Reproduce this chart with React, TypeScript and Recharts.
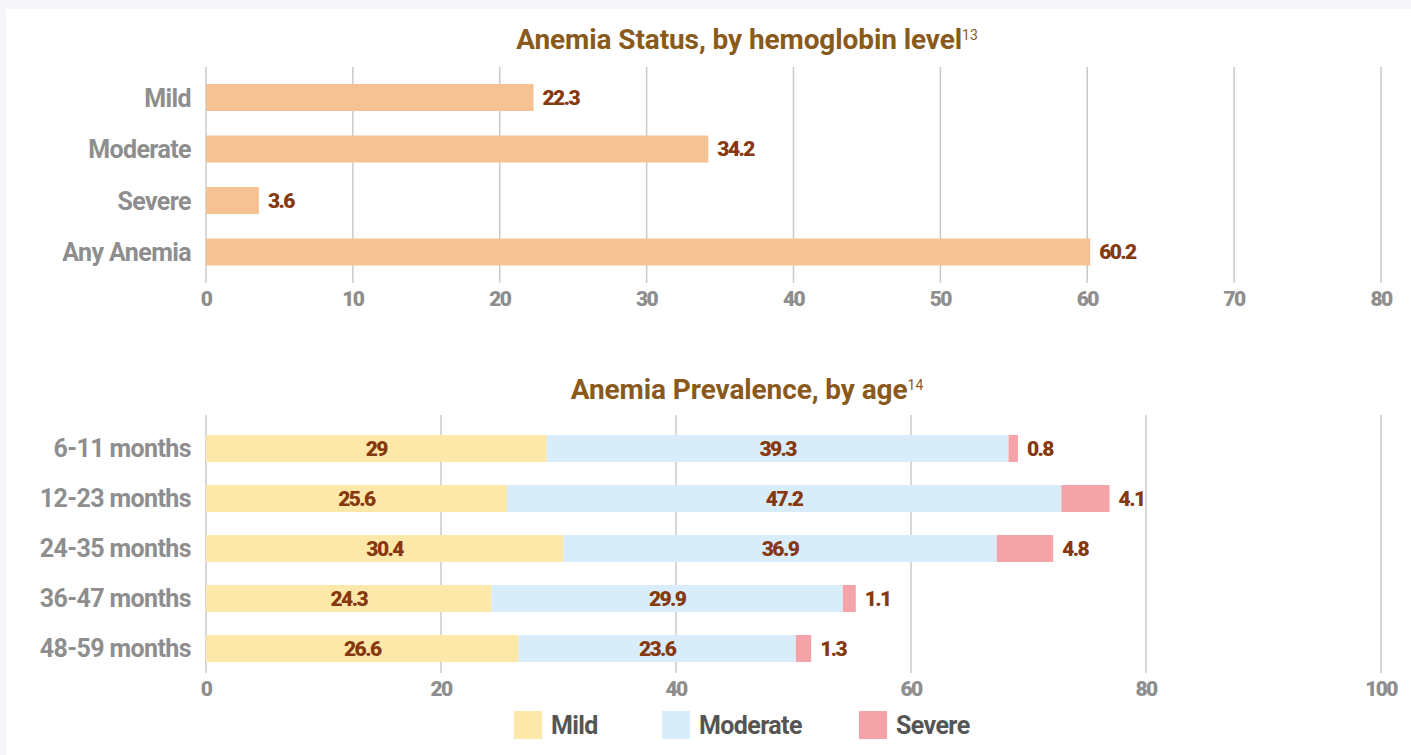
import { BarChart, Bar, XAxis, YAxis, CartesianGrid, LabelList } from 'recharts';

// top chart: anemia status by hemoglobin level
const statusCategories = ['Mild', 'Moderate', 'Severe', 'Any Anemia'];
const statusValues = [22.3, 34.2, 3.6, 60.2];
const statusTicks = [0, 10, 20, 30, 40, 50, 60, 70, 80];

// bottom chart: prevalence by age
const ageGroups = ['6-11 months', '12-23 months', '24-35 months', '36-47 months', '48-59 months'];
const mildByAge = [29, 25.6, 30.4, 24.3, 26.6];
const moderateByAge = [39.3, 47.2, 36.9, 29.9, 23.6];
const severeByAge = [0.8, 4.1, 4.8, 1.1, 1.3];
const ageTicks = [0, 20, 40, 60, 80, 100];

const seriesNames = ['Mild', 'Moderate', 'Severe'];
const seriesColors = ['#FDE8A9', '#D8ECFA', '#F4A4A9'];
const legendLefts = [514, 662, 859];

const FONT = "'Roboto', 'Liberation Sans', sans-serif";
const TITLE_COLOR = '#8A5A1C';
const VALUE_COLOR = '#86380F';
const TICK_COLOR = '#8E8E8E';
const GRID_COLOR = '#CACACA';

const statusData = statusCategories.map((name, i) => ({ name, value: statusValues[i] }));
const ageData = ageGroups.map((name, i) => ({
  name,
  mild: mildByAge[i],
  moderate: moderateByAge[i],
  severe: severeByAge[i],
}));

const valueLabelStyle = { fill: VALUE_COLOR, fontSize: 21, fontWeight: 900, fontFamily: FONT, letterSpacing: -1.6 };
const numTick = { fill: TICK_COLOR, fontSize: 21, fontWeight: 900, fontFamily: FONT, letterSpacing: -1.6 };
const catTick = { fill: TICK_COLOR, fontSize: 25, fontWeight: 700, fontFamily: FONT, letterSpacing: -0.6 };

function Title({ text, sup, top }: { text: string; sup: string; top: number }) {
  return (
    <div style={{
      position: 'absolute', left: 0, top, width: 1494, textAlign: 'center',
      fontFamily: FONT, fontWeight: 700, fontSize: 28, letterSpacing: -0.1, color: TITLE_COLOR, lineHeight: '34px',
    }}>
      {text}
      <sup style={{ fontSize: 14, fontWeight: 400, verticalAlign: 'top', position: 'relative', top: -5, letterSpacing: 0 }}>{sup}</sup>
    </div>
  );
}

export default function App() {
  return (
    <div style={{ position: 'absolute', left: 0, top: 0, width: 1411, height: 755, background: '#F6F6FA', overflow: 'hidden' }}>
      <div style={{ position: 'absolute', left: 6, top: 9, width: 1405, height: 746, background: '#FFFFFF' }} />

      <Title text="Anemia Status, by hemoglobin level" sup="13" top={23} />
      <div style={{ position: 'absolute', left: 0, top: 0 }}>
        <BarChart
          width={1411}
          height={320}
          data={statusData}
          layout="vertical"
          margin={{ top: 67, right: 30, bottom: 7, left: 0 }}
          barSize={27}
        >
          <CartesianGrid horizontal={false} stroke={GRID_COLOR} strokeWidth={1.5} />
          <XAxis
            type="number"
            domain={[0, 80]}
            ticks={statusTicks}
            axisLine={false}
            tickLine={false}
            height={30}
            tick={numTick}
          />
          <YAxis
            type="category"
            dataKey="name"
            width={206}
            axisLine={false}
            tickLine={false}
            tickMargin={9}
            padding={{ top: 5, bottom: 5 }}
            tick={catTick}
          />
          <Bar dataKey="value" fill="#F6C193" isAnimationActive={false}>
            <LabelList dataKey="value" position="right" offset={9} style={valueLabelStyle} />
          </Bar>
        </BarChart>
      </div>

      <Title text="Anemia Prevalence, by age" sup="14" top={373} />
      <div style={{ position: 'absolute', left: 0, top: 340 }}>
        <BarChart
          width={1411}
          height={380}
          data={ageData}
          layout="vertical"
          margin={{ top: 75, right: 30, bottom: 17, left: 0 }}
          barSize={27}
        >
          <CartesianGrid horizontal={false} stroke={GRID_COLOR} strokeWidth={1.5} />
          <XAxis
            type="number"
            domain={[0, 100]}
            ticks={ageTicks}
            axisLine={false}
            tickLine={false}
            height={30}
            tick={numTick}
          />
          <YAxis
            type="category"
            dataKey="name"
            width={206}
            axisLine={false}
            tickLine={false}
            tickMargin={9}
            padding={{ top: 8, bottom: 0 }}
            tick={catTick}
          />
          <Bar dataKey="mild" stackId="a" fill={seriesColors[0]} isAnimationActive={false}>
            <LabelList dataKey="mild" position="center" style={valueLabelStyle} />
          </Bar>
          <Bar dataKey="moderate" stackId="a" fill={seriesColors[1]} isAnimationActive={false}>
            <LabelList dataKey="moderate" position="center" style={valueLabelStyle} />
          </Bar>
          <Bar dataKey="severe" stackId="a" fill={seriesColors[2]} isAnimationActive={false}>
            <LabelList dataKey="severe" position="right" offset={9} style={valueLabelStyle} />
          </Bar>
        </BarChart>
      </div>

      {/* legend */}
      {seriesNames.map((name, i) => (
        <div key={name} style={{
          position: 'absolute', left: legendLefts[i], top: 711, height: 28, display: 'flex', alignItems: 'center',
          fontFamily: FONT, fontWeight: 700, fontSize: 25, letterSpacing: -0.6, color: '#555555',
        }}>
          <span style={{ width: 28, height: 28, background: seriesColors[i], display: 'inline-block', marginRight: 9 }} />
          <span>{name}</span>
        </div>
      ))}
    </div>
  );
}
